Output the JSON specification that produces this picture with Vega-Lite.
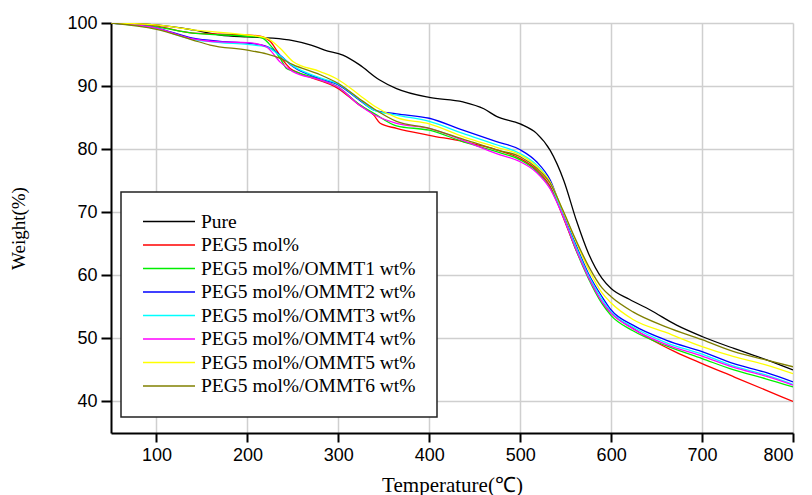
{
  "$schema": "https://vega.github.io/schema/vega-lite/v6.json",
  "width": 682,
  "height": 410,
  "autosize": "none",
  "padding": {"left": 111, "top": 23, "right": 19, "bottom": 62},
  "background": "white",
  "config": {"view": {"stroke": null}, "legend": {"strokeWidth": 1.5}},
  "data": {"values": [
    {"s":"Pure","t":50,"w":100},{"s":"Pure","t":100,"w":99.7},{"s":"Pure","t":140,"w":98.9},{"s":"Pure","t":170,"w":98.1},{"s":"Pure","t":200,"w":97.8},{"s":"Pure","t":228,"w":97.6},{"s":"Pure","t":250,"w":97.2},{"s":"Pure","t":270,"w":96.5},{"s":"Pure","t":285,"w":95.7},{"s":"Pure","t":305,"w":94.9},{"s":"Pure","t":323,"w":93.4},{"s":"Pure","t":345,"w":91.0},{"s":"Pure","t":364,"w":89.6},{"s":"Pure","t":400,"w":88.2},{"s":"Pure","t":437,"w":87.5},{"s":"Pure","t":460,"w":86.4},{"s":"Pure","t":474,"w":85.2},{"s":"Pure","t":500,"w":84.0},{"s":"Pure","t":518,"w":82.5},{"s":"Pure","t":533,"w":79.8},{"s":"Pure","t":548,"w":75.0},{"s":"Pure","t":562,"w":68.6},{"s":"Pure","t":575,"w":63.5},{"s":"Pure","t":590,"w":59.5},{"s":"Pure","t":600,"w":57.9},{"s":"Pure","t":620,"w":56.2},{"s":"Pure","t":643,"w":54.5},{"s":"Pure","t":672,"w":52.1},{"s":"Pure","t":700,"w":50.3},{"s":"Pure","t":735,"w":48.4},{"s":"Pure","t":771,"w":46.6},{"s":"Pure","t":800,"w":45.0},

    {"s":"PEG5 mol%","t":50,"w":100},{"s":"PEG5 mol%","t":100,"w":99.5},{"s":"PEG5 mol%","t":140,"w":98.4},{"s":"PEG5 mol%","t":200,"w":98.1},{"s":"PEG5 mol%","t":214,"w":97.9},{"s":"PEG5 mol%","t":225,"w":97.1},{"s":"PEG5 mol%","t":232,"w":95.7},{"s":"PEG5 mol%","t":239,"w":94.1},{"s":"PEG5 mol%","t":247,"w":92.8},{"s":"PEG5 mol%","t":258,"w":92.0},{"s":"PEG5 mol%","t":300,"w":89.6},{"s":"PEG5 mol%","t":323,"w":87.0},{"s":"PEG5 mol%","t":339,"w":85.4},{"s":"PEG5 mol%","t":346,"w":84.1},{"s":"PEG5 mol%","t":364,"w":83.3},{"s":"PEG5 mol%","t":400,"w":82.2},{"s":"PEG5 mol%","t":437,"w":81.2},{"s":"PEG5 mol%","t":474,"w":79.9},{"s":"PEG5 mol%","t":500,"w":78.5},{"s":"PEG5 mol%","t":518,"w":76.7},{"s":"PEG5 mol%","t":533,"w":74.1},{"s":"PEG5 mol%","t":547,"w":69.3},{"s":"PEG5 mol%","t":560,"w":64.5},{"s":"PEG5 mol%","t":575,"w":59.8},{"s":"PEG5 mol%","t":590,"w":55.7},{"s":"PEG5 mol%","t":600,"w":54.0},{"s":"PEG5 mol%","t":624,"w":51.6},{"s":"PEG5 mol%","t":643,"w":49.9},{"s":"PEG5 mol%","t":670,"w":47.9},{"s":"PEG5 mol%","t":700,"w":46.0},{"s":"PEG5 mol%","t":735,"w":43.9},{"s":"PEG5 mol%","t":770,"w":41.8},{"s":"PEG5 mol%","t":800,"w":40.0},

    {"s":"PEG5 mol%/OMMT1 wt%","t":50,"w":100},{"s":"PEG5 mol%/OMMT1 wt%","t":100,"w":99.4},{"s":"PEG5 mol%/OMMT1 wt%","t":140,"w":98.4},{"s":"PEG5 mol%/OMMT1 wt%","t":200,"w":97.9},{"s":"PEG5 mol%/OMMT1 wt%","t":215,"w":97.7},{"s":"PEG5 mol%/OMMT1 wt%","t":228,"w":96.0},{"s":"PEG5 mol%/OMMT1 wt%","t":236,"w":94.4},{"s":"PEG5 mol%/OMMT1 wt%","t":243,"w":92.8},{"s":"PEG5 mol%/OMMT1 wt%","t":250,"w":92.4},{"s":"PEG5 mol%/OMMT1 wt%","t":280,"w":91.0},{"s":"PEG5 mol%/OMMT1 wt%","t":300,"w":89.8},{"s":"PEG5 mol%/OMMT1 wt%","t":323,"w":87.1},{"s":"PEG5 mol%/OMMT1 wt%","t":340,"w":85.6},{"s":"PEG5 mol%/OMMT1 wt%","t":364,"w":83.7},{"s":"PEG5 mol%/OMMT1 wt%","t":400,"w":83.0},{"s":"PEG5 mol%/OMMT1 wt%","t":437,"w":81.2},{"s":"PEG5 mol%/OMMT1 wt%","t":474,"w":79.6},{"s":"PEG5 mol%/OMMT1 wt%","t":500,"w":78.3},{"s":"PEG5 mol%/OMMT1 wt%","t":518,"w":76.5},{"s":"PEG5 mol%/OMMT1 wt%","t":533,"w":73.8},{"s":"PEG5 mol%/OMMT1 wt%","t":547,"w":69.5},{"s":"PEG5 mol%/OMMT1 wt%","t":560,"w":64.5},{"s":"PEG5 mol%/OMMT1 wt%","t":575,"w":59.5},{"s":"PEG5 mol%/OMMT1 wt%","t":590,"w":55.5},{"s":"PEG5 mol%/OMMT1 wt%","t":600,"w":53.6},{"s":"PEG5 mol%/OMMT1 wt%","t":624,"w":51.2},{"s":"PEG5 mol%/OMMT1 wt%","t":661,"w":48.8},{"s":"PEG5 mol%/OMMT1 wt%","t":700,"w":46.8},{"s":"PEG5 mol%/OMMT1 wt%","t":735,"w":45.0},{"s":"PEG5 mol%/OMMT1 wt%","t":770,"w":43.6},{"s":"PEG5 mol%/OMMT1 wt%","t":800,"w":42.3},

    {"s":"PEG5 mol%/OMMT2 wt%","t":50,"w":100},{"s":"PEG5 mol%/OMMT2 wt%","t":100,"w":99.2},{"s":"PEG5 mol%/OMMT2 wt%","t":140,"w":97.6},{"s":"PEG5 mol%/OMMT2 wt%","t":170,"w":97.1},{"s":"PEG5 mol%/OMMT2 wt%","t":200,"w":96.8},{"s":"PEG5 mol%/OMMT2 wt%","t":221,"w":96.3},{"s":"PEG5 mol%/OMMT2 wt%","t":236,"w":94.9},{"s":"PEG5 mol%/OMMT2 wt%","t":250,"w":93.1},{"s":"PEG5 mol%/OMMT2 wt%","t":280,"w":91.2},{"s":"PEG5 mol%/OMMT2 wt%","t":300,"w":90.2},{"s":"PEG5 mol%/OMMT2 wt%","t":323,"w":87.8},{"s":"PEG5 mol%/OMMT2 wt%","t":339,"w":86.2},{"s":"PEG5 mol%/OMMT2 wt%","t":364,"w":85.6},{"s":"PEG5 mol%/OMMT2 wt%","t":400,"w":84.9},{"s":"PEG5 mol%/OMMT2 wt%","t":437,"w":83.0},{"s":"PEG5 mol%/OMMT2 wt%","t":474,"w":81.2},{"s":"PEG5 mol%/OMMT2 wt%","t":500,"w":79.9},{"s":"PEG5 mol%/OMMT2 wt%","t":518,"w":78.0},{"s":"PEG5 mol%/OMMT2 wt%","t":533,"w":75.1},{"s":"PEG5 mol%/OMMT2 wt%","t":547,"w":69.8},{"s":"PEG5 mol%/OMMT2 wt%","t":560,"w":65.3},{"s":"PEG5 mol%/OMMT2 wt%","t":575,"w":60.3},{"s":"PEG5 mol%/OMMT2 wt%","t":590,"w":56.6},{"s":"PEG5 mol%/OMMT2 wt%","t":600,"w":54.5},{"s":"PEG5 mol%/OMMT2 wt%","t":624,"w":52.1},{"s":"PEG5 mol%/OMMT2 wt%","t":661,"w":49.7},{"s":"PEG5 mol%/OMMT2 wt%","t":700,"w":47.9},{"s":"PEG5 mol%/OMMT2 wt%","t":735,"w":46.0},{"s":"PEG5 mol%/OMMT2 wt%","t":770,"w":44.6},{"s":"PEG5 mol%/OMMT2 wt%","t":800,"w":43.1},

    {"s":"PEG5 mol%/OMMT3 wt%","t":50,"w":100},{"s":"PEG5 mol%/OMMT3 wt%","t":100,"w":99.1},{"s":"PEG5 mol%/OMMT3 wt%","t":140,"w":97.4},{"s":"PEG5 mol%/OMMT3 wt%","t":170,"w":96.9},{"s":"PEG5 mol%/OMMT3 wt%","t":200,"w":96.6},{"s":"PEG5 mol%/OMMT3 wt%","t":221,"w":96.2},{"s":"PEG5 mol%/OMMT3 wt%","t":236,"w":94.8},{"s":"PEG5 mol%/OMMT3 wt%","t":250,"w":93.2},{"s":"PEG5 mol%/OMMT3 wt%","t":280,"w":91.3},{"s":"PEG5 mol%/OMMT3 wt%","t":300,"w":90.3},{"s":"PEG5 mol%/OMMT3 wt%","t":323,"w":87.9},{"s":"PEG5 mol%/OMMT3 wt%","t":339,"w":86.2},{"s":"PEG5 mol%/OMMT3 wt%","t":364,"w":85.4},{"s":"PEG5 mol%/OMMT3 wt%","t":400,"w":84.4},{"s":"PEG5 mol%/OMMT3 wt%","t":437,"w":82.5},{"s":"PEG5 mol%/OMMT3 wt%","t":474,"w":80.7},{"s":"PEG5 mol%/OMMT3 wt%","t":500,"w":79.3},{"s":"PEG5 mol%/OMMT3 wt%","t":518,"w":77.5},{"s":"PEG5 mol%/OMMT3 wt%","t":533,"w":74.7},{"s":"PEG5 mol%/OMMT3 wt%","t":547,"w":69.6},{"s":"PEG5 mol%/OMMT3 wt%","t":560,"w":65.0},{"s":"PEG5 mol%/OMMT3 wt%","t":575,"w":60.0},{"s":"PEG5 mol%/OMMT3 wt%","t":590,"w":56.2},{"s":"PEG5 mol%/OMMT3 wt%","t":600,"w":54.2},{"s":"PEG5 mol%/OMMT3 wt%","t":624,"w":51.8},{"s":"PEG5 mol%/OMMT3 wt%","t":661,"w":49.3},{"s":"PEG5 mol%/OMMT3 wt%","t":700,"w":47.5},{"s":"PEG5 mol%/OMMT3 wt%","t":735,"w":45.6},{"s":"PEG5 mol%/OMMT3 wt%","t":770,"w":44.2},{"s":"PEG5 mol%/OMMT3 wt%","t":800,"w":42.7},

    {"s":"PEG5 mol%/OMMT4 wt%","t":50,"w":100},{"s":"PEG5 mol%/OMMT4 wt%","t":100,"w":99.2},{"s":"PEG5 mol%/OMMT4 wt%","t":140,"w":97.5},{"s":"PEG5 mol%/OMMT4 wt%","t":170,"w":97.0},{"s":"PEG5 mol%/OMMT4 wt%","t":200,"w":96.9},{"s":"PEG5 mol%/OMMT4 wt%","t":221,"w":96.2},{"s":"PEG5 mol%/OMMT4 wt%","t":236,"w":93.8},{"s":"PEG5 mol%/OMMT4 wt%","t":250,"w":92.3},{"s":"PEG5 mol%/OMMT4 wt%","t":280,"w":91.0},{"s":"PEG5 mol%/OMMT4 wt%","t":300,"w":89.8},{"s":"PEG5 mol%/OMMT4 wt%","t":323,"w":87.0},{"s":"PEG5 mol%/OMMT4 wt%","t":339,"w":85.5},{"s":"PEG5 mol%/OMMT4 wt%","t":364,"w":84.1},{"s":"PEG5 mol%/OMMT4 wt%","t":400,"w":83.3},{"s":"PEG5 mol%/OMMT4 wt%","t":437,"w":81.4},{"s":"PEG5 mol%/OMMT4 wt%","t":474,"w":79.3},{"s":"PEG5 mol%/OMMT4 wt%","t":500,"w":78.0},{"s":"PEG5 mol%/OMMT4 wt%","t":518,"w":76.3},{"s":"PEG5 mol%/OMMT4 wt%","t":533,"w":73.7},{"s":"PEG5 mol%/OMMT4 wt%","t":547,"w":69.4},{"s":"PEG5 mol%/OMMT4 wt%","t":560,"w":64.6},{"s":"PEG5 mol%/OMMT4 wt%","t":575,"w":59.7},{"s":"PEG5 mol%/OMMT4 wt%","t":590,"w":55.8},{"s":"PEG5 mol%/OMMT4 wt%","t":600,"w":54.0},{"s":"PEG5 mol%/OMMT4 wt%","t":624,"w":51.5},{"s":"PEG5 mol%/OMMT4 wt%","t":661,"w":49.0},{"s":"PEG5 mol%/OMMT4 wt%","t":700,"w":47.2},{"s":"PEG5 mol%/OMMT4 wt%","t":735,"w":45.4},{"s":"PEG5 mol%/OMMT4 wt%","t":770,"w":44.0},{"s":"PEG5 mol%/OMMT4 wt%","t":800,"w":42.6},

    {"s":"PEG5 mol%/OMMT5 wt%","t":50,"w":100},{"s":"PEG5 mol%/OMMT5 wt%","t":100,"w":99.7},{"s":"PEG5 mol%/OMMT5 wt%","t":140,"w":98.9},{"s":"PEG5 mol%/OMMT5 wt%","t":200,"w":98.1},{"s":"PEG5 mol%/OMMT5 wt%","t":221,"w":97.6},{"s":"PEG5 mol%/OMMT5 wt%","t":236,"w":96.0},{"s":"PEG5 mol%/OMMT5 wt%","t":250,"w":93.9},{"s":"PEG5 mol%/OMMT5 wt%","t":280,"w":92.3},{"s":"PEG5 mol%/OMMT5 wt%","t":300,"w":91.0},{"s":"PEG5 mol%/OMMT5 wt%","t":323,"w":88.6},{"s":"PEG5 mol%/OMMT5 wt%","t":340,"w":86.8},{"s":"PEG5 mol%/OMMT5 wt%","t":364,"w":85.0},{"s":"PEG5 mol%/OMMT5 wt%","t":400,"w":84.0},{"s":"PEG5 mol%/OMMT5 wt%","t":437,"w":82.0},{"s":"PEG5 mol%/OMMT5 wt%","t":474,"w":80.3},{"s":"PEG5 mol%/OMMT5 wt%","t":500,"w":79.1},{"s":"PEG5 mol%/OMMT5 wt%","t":518,"w":77.3},{"s":"PEG5 mol%/OMMT5 wt%","t":533,"w":74.8},{"s":"PEG5 mol%/OMMT5 wt%","t":547,"w":70.2},{"s":"PEG5 mol%/OMMT5 wt%","t":560,"w":65.8},{"s":"PEG5 mol%/OMMT5 wt%","t":575,"w":61.0},{"s":"PEG5 mol%/OMMT5 wt%","t":590,"w":57.2},{"s":"PEG5 mol%/OMMT5 wt%","t":600,"w":55.6},{"s":"PEG5 mol%/OMMT5 wt%","t":624,"w":53.0},{"s":"PEG5 mol%/OMMT5 wt%","t":661,"w":50.9},{"s":"PEG5 mol%/OMMT5 wt%","t":700,"w":48.7},{"s":"PEG5 mol%/OMMT5 wt%","t":735,"w":47.1},{"s":"PEG5 mol%/OMMT5 wt%","t":770,"w":45.8},{"s":"PEG5 mol%/OMMT5 wt%","t":800,"w":44.4},

    {"s":"PEG5 mol%/OMMT6 wt%","t":50,"w":100},{"s":"PEG5 mol%/OMMT6 wt%","t":100,"w":99.0},{"s":"PEG5 mol%/OMMT6 wt%","t":140,"w":97.3},{"s":"PEG5 mol%/OMMT6 wt%","t":159,"w":96.5},{"s":"PEG5 mol%/OMMT6 wt%","t":200,"w":95.7},{"s":"PEG5 mol%/OMMT6 wt%","t":221,"w":95.1},{"s":"PEG5 mol%/OMMT6 wt%","t":236,"w":94.4},{"s":"PEG5 mol%/OMMT6 wt%","t":250,"w":93.4},{"s":"PEG5 mol%/OMMT6 wt%","t":280,"w":91.8},{"s":"PEG5 mol%/OMMT6 wt%","t":300,"w":90.4},{"s":"PEG5 mol%/OMMT6 wt%","t":323,"w":88.0},{"s":"PEG5 mol%/OMMT6 wt%","t":339,"w":86.4},{"s":"PEG5 mol%/OMMT6 wt%","t":364,"w":84.4},{"s":"PEG5 mol%/OMMT6 wt%","t":400,"w":83.3},{"s":"PEG5 mol%/OMMT6 wt%","t":437,"w":81.6},{"s":"PEG5 mol%/OMMT6 wt%","t":474,"w":79.9},{"s":"PEG5 mol%/OMMT6 wt%","t":500,"w":78.8},{"s":"PEG5 mol%/OMMT6 wt%","t":518,"w":77.0},{"s":"PEG5 mol%/OMMT6 wt%","t":533,"w":74.6},{"s":"PEG5 mol%/OMMT6 wt%","t":547,"w":70.3},{"s":"PEG5 mol%/OMMT6 wt%","t":560,"w":66.0},{"s":"PEG5 mol%/OMMT6 wt%","t":575,"w":61.5},{"s":"PEG5 mol%/OMMT6 wt%","t":590,"w":58.0},{"s":"PEG5 mol%/OMMT6 wt%","t":600,"w":56.6},{"s":"PEG5 mol%/OMMT6 wt%","t":624,"w":54.2},{"s":"PEG5 mol%/OMMT6 wt%","t":661,"w":51.8},{"s":"PEG5 mol%/OMMT6 wt%","t":700,"w":49.8},{"s":"PEG5 mol%/OMMT6 wt%","t":735,"w":47.9},{"s":"PEG5 mol%/OMMT6 wt%","t":770,"w":46.6},{"s":"PEG5 mol%/OMMT6 wt%","t":800,"w":45.5}
  ]},
  "mark": {"type": "line", "interpolate": "monotone", "strokeWidth": 1.3, "clip": true},
  "encoding": {
    "x": {
      "field": "t", "type": "quantitative",
      "scale": {"domain": [50, 800], "nice": false, "zero": false},
      "axis": {
        "title": "Temperature(℃)",
        "values": [100, 200, 300, 400, 500, 600, 700, 800],
        "format": "d",
        "grid": true, "gridColor": "#cfcfcf", "gridWidth": 1.5,
        "domainColor": "black", "domainWidth": 2,
        "tickColor": "black", "tickWidth": 2, "tickSize": 9,
        "labelFont": "Liberation Sans", "labelFontSize": 18, "labelColor": "black", "labelPadding": 4,
        "titleFont": "Liberation Serif", "titleFontSize": 21, "titleFontWeight": "normal", "titleColor": "black", "titlePadding": 10
      }
    },
    "y": {
      "field": "w", "type": "quantitative",
      "scale": {"domain": [35, 100], "nice": false, "zero": false},
      "axis": {
        "title": "Weight(%)",
        "values": [40, 50, 60, 70, 80, 90, 100],
        "grid": true, "gridColor": "#cfcfcf", "gridWidth": 1.5,
        "domainColor": "black", "domainWidth": 2,
        "tickColor": "black", "tickWidth": 2, "tickSize": 10,
        "labelFont": "Liberation Sans", "labelFontSize": 18, "labelColor": "black", "labelPadding": 4,
        "titleFont": "Liberation Serif", "titleFontSize": 19, "titleFontWeight": "normal", "titleColor": "black", "titlePadding": 38
      }
    },
    "color": {
      "field": "s", "type": "nominal",
      "scale": {
        "domain": ["Pure", "PEG5 mol%", "PEG5 mol%/OMMT1 wt%", "PEG5 mol%/OMMT2 wt%", "PEG5 mol%/OMMT3 wt%", "PEG5 mol%/OMMT4 wt%", "PEG5 mol%/OMMT5 wt%", "PEG5 mol%/OMMT6 wt%"],
        "range": ["#000000", "#ff0000", "#00ee00", "#0000ff", "#00ffff", "#ff00ff", "#ffff00", "#808000"]
      },
      "legend": {
        "title": null,
        "orient": "none",
        "legendX": 10,
        "legendY": 169,
        "fillColor": "white",
        "strokeColor": "#222222",
        "padding": 21,
        "symbolType": "stroke",
        "symbolSize": 2704,
        "symbolStrokeWidth": 1.3,
        "clipHeight": 17,
        "rowPadding": 3.5,
        "labelFont": "Liberation Serif",
        "labelFontSize": 19.5,
        "labelColor": "black",
        "labelOffset": 5,
        "labelLimit": 400
      }
    }
  }
}
